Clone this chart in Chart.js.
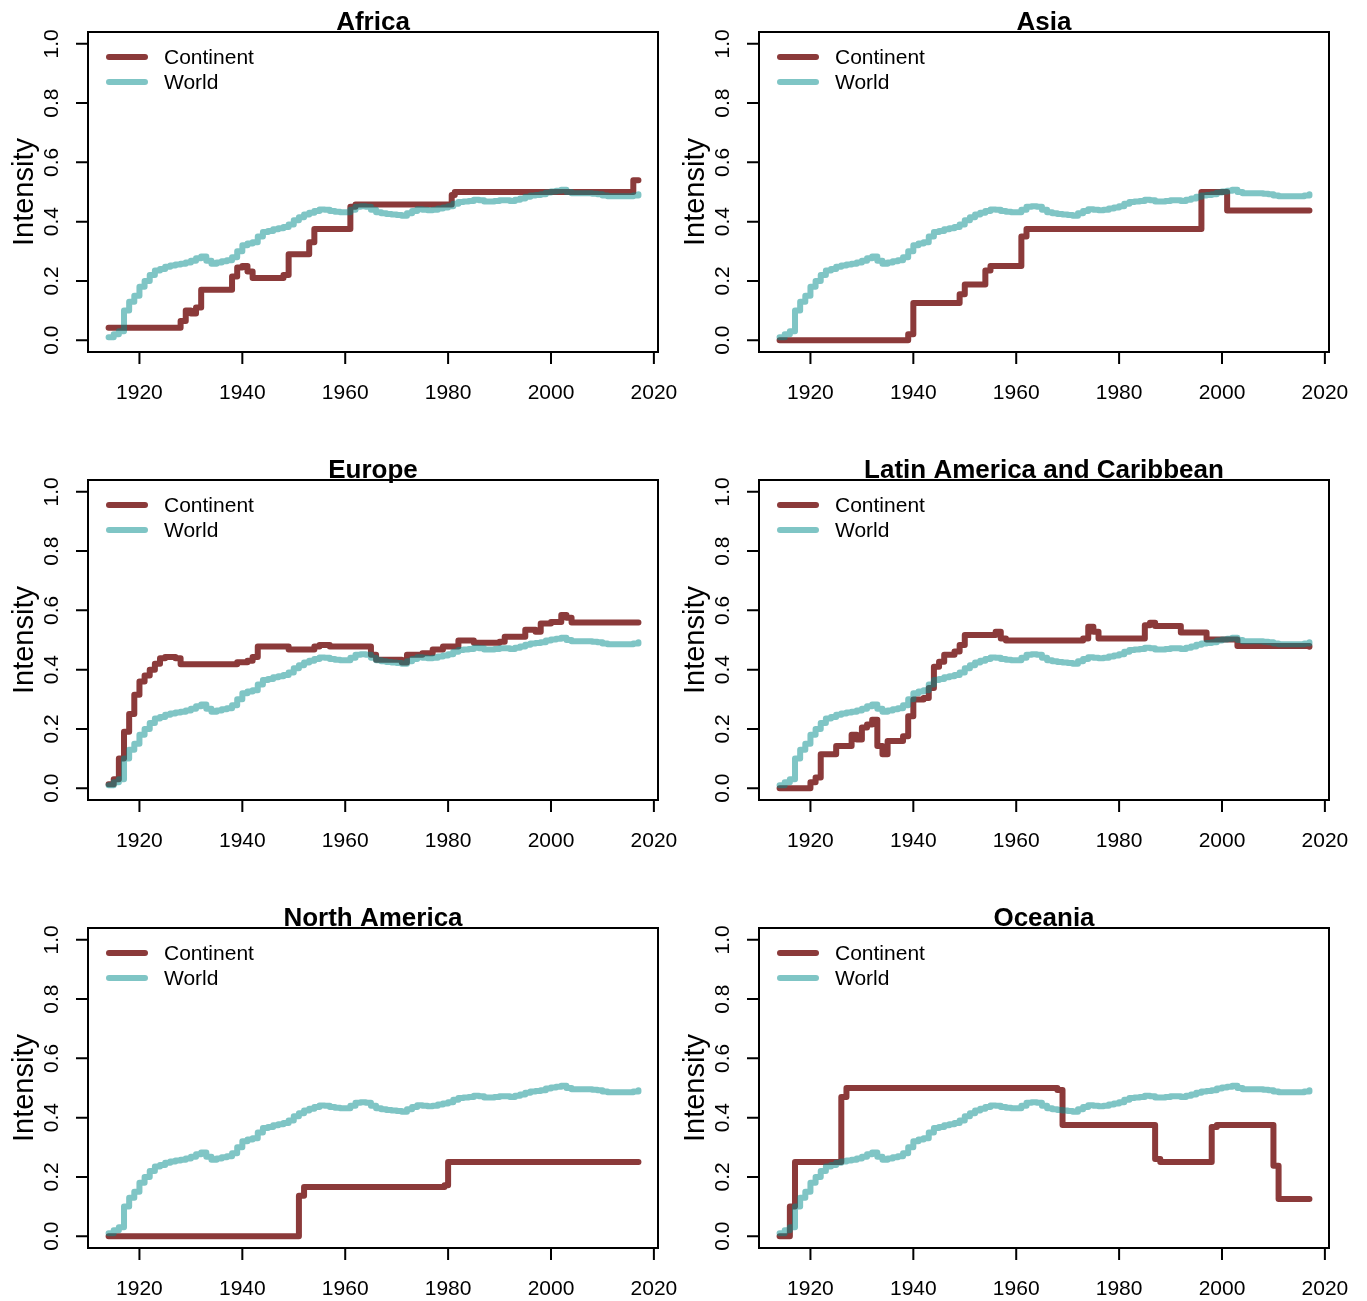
<!DOCTYPE html>
<html>
<head>
<meta charset="utf-8">
<title>Intensity by continent</title>
<script src="https://cdn.jsdelivr.net/npm/chart.js@4.4.1/dist/chart.umd.min.js"></script>
<style>
  html, body { margin: 0; padding: 0; background: #fff; }
  #page { position: relative; width: 1367px; height: 1301px; overflow: hidden; }
  #page canvas { position: absolute; }
</style>
</head>
<body>
<div id="page"></div>
<script>
// world average, same in every panel
const worldYears = [1914, 1915, 1916, 1917, 1918, 1919, 1920, 1921, 1922, 1923, 1924, 1925, 1926, 1927, 1928, 1929,
  1930, 1931, 1932, 1933, 1934, 1935, 1936, 1937, 1938, 1939, 1940, 1941, 1942, 1943, 1944, 1945, 1946, 1947, 1948, 1949,
  1950, 1951, 1952, 1953, 1954, 1955, 1956, 1957, 1958, 1959, 1960, 1961, 1962, 1963, 1964, 1965, 1966, 1967, 1968, 1969,
  1970, 1971, 1972, 1973, 1974, 1975, 1976, 1977, 1978, 1979, 1980, 1981, 1982, 1983, 1984, 1985, 1986, 1987, 1988, 1989,
  1990, 1991, 1992, 1993, 1994, 1995, 1996, 1997, 1998, 1999, 2000, 2001, 2002, 2003, 2004, 2005, 2006, 2007, 2008, 2009,
  2010, 2011, 2012, 2013, 2014, 2015, 2016, 2017];
const worldValues = [0.01, 0.02, 0.03, 0.10, 0.13, 0.15, 0.18, 0.20, 0.22, 0.235, 0.24, 0.248, 0.252, 0.255, 0.258, 0.262,
  0.268, 0.276, 0.282, 0.268, 0.258, 0.262, 0.266, 0.27, 0.28, 0.30, 0.32, 0.326, 0.33, 0.35, 0.365, 0.368, 0.374, 0.378, 0.382, 0.39,
  0.405, 0.415, 0.424, 0.43, 0.436, 0.441, 0.44, 0.436, 0.433, 0.432, 0.432, 0.44, 0.45, 0.452, 0.45, 0.44, 0.432, 0.428, 0.426, 0.424,
  0.422, 0.42, 0.428, 0.436, 0.442, 0.44, 0.438, 0.44, 0.444, 0.448, 0.452, 0.46, 0.466, 0.468, 0.47, 0.474, 0.472, 0.468, 0.468, 0.47,
  0.472, 0.472, 0.47, 0.474, 0.478, 0.484, 0.488, 0.49, 0.492, 0.498, 0.502, 0.504, 0.508, 0.50, 0.496, 0.496, 0.496, 0.496, 0.494, 0.492,
  0.488, 0.486, 0.486, 0.486, 0.486, 0.486, 0.488, 0.492];

// continent series (step changes)
const africaYears = [1914, 1928, 1929, 1930, 1931, 1932, 1938, 1939, 1940, 1941, 1942, 1948, 1949, 1953, 1954, 1961, 1962, 1980.7, 1981.3, 2016, 2017];
const africaValues = [0.042, 0.065, 0.10, 0.09, 0.11, 0.17, 0.215, 0.245, 0.25, 0.232, 0.21, 0.22, 0.29, 0.33, 0.375, 0.45, 0.458, 0.49, 0.50, 0.54, 0.54];

const asiaYears = [1914, 1939, 1940, 1949, 1950, 1954, 1955, 1961, 1962, 1996, 2001, 2017];
const asiaValues = [0, 0.02, 0.125, 0.155, 0.188, 0.235, 0.25, 0.35, 0.375, 0.50, 0.4375, 0.4375];

const europeYears = [1914, 1915, 1916, 1917, 1918, 1919, 1920, 1921, 1922, 1923, 1924, 1925, 1927, 1928, 1939, 1941, 1942, 1943,
  1949, 1954, 1955, 1957, 1965, 1966, 1971, 1972, 1975, 1977, 1979, 1982, 1985, 1990, 1991, 1995, 1997, 1998, 2000, 2002, 2003, 2004, 2017];
const europeValues = [0.013, 0.03, 0.10, 0.19, 0.25, 0.315, 0.36, 0.38, 0.40, 0.42, 0.438, 0.443, 0.438, 0.418, 0.425, 0.43, 0.443, 0.478,
  0.468, 0.478, 0.483, 0.478, 0.45, 0.433, 0.424, 0.45, 0.455, 0.468, 0.478, 0.498, 0.491, 0.494, 0.511, 0.535, 0.528, 0.556, 0.561, 0.584, 0.575, 0.559, 0.559];

const latamYears = [1914, 1920, 1921, 1922, 1925, 1928, 1929, 1930, 1931, 1932, 1933, 1934, 1935, 1938, 1939, 1940, 1942, 1943, 1944,
  1945, 1946, 1948, 1949, 1950, 1956, 1957, 1958, 1973, 1974, 1975, 1976, 1985, 1986, 1987, 1992, 1997, 2003, 2017];
const latamValues = [0, 0.02, 0.036, 0.114, 0.142, 0.18, 0.164, 0.205, 0.215, 0.231, 0.142, 0.114, 0.159, 0.175, 0.243, 0.299, 0.304, 0.338, 0.41,
  0.427, 0.45, 0.461, 0.483, 0.517, 0.528, 0.505, 0.498, 0.505, 0.545, 0.528, 0.505, 0.55, 0.558, 0.547, 0.525, 0.502, 0.48, 0.477];

const northAmYears = [1914, 1951, 1952, 1979.3, 1980, 2017];
const northAmValues = [0, 0.136, 0.166, 0.172, 0.25, 0.25];

const oceaniaYears = [1914, 1916, 1917, 1926, 1927, 1968, 1969, 1987, 1988, 1998, 1999, 2010, 2011, 2017];
const oceaniaValues = [0, 0.10, 0.25, 0.47, 0.50, 0.493, 0.375, 0.26, 0.25, 0.368, 0.375, 0.238, 0.125, 0.125];

const panelTitles = ['Africa', 'Asia', 'Europe', 'Latin America and Caribbean', 'North America', 'Oceania'];
const panelYears = [africaYears, asiaYears, europeYears, latamYears, northAmYears, oceaniaYears];
const panelValues = [africaValues, asiaValues, europeValues, latamValues, northAmValues, oceaniaValues];

const xTicks = [1920, 1940, 1960, 1980, 2000, 2020];
const yTicks = [0, 0.2, 0.4, 0.6, 0.8, 1.0];
const yTickLabels = ['0.0', '0.2', '0.4', '0.6', '0.8', '1.0'];
const seriesNames = ['Continent', 'World'];

const RED = 'rgb(139,58,58)';
const TEAL = 'rgba(0,139,139,0.5)';
const FONT = '"Liberation Sans", Arial, Helvetica, sans-serif';

function toPoints(xs, ys) {
  return xs.map((x, i) => ({ x: x, y: ys[i] }));
}

// R-style box, ticks, labels, title and legend
const rFrame = {
  id: 'rFrame',
  afterDraw(chart, args, opts) {
    const ctx = chart.ctx;
    const a = chart.chartArea;
    const sx = chart.scales.x, sy = chart.scales.y;
    ctx.save();
    ctx.strokeStyle = '#000';
    ctx.lineWidth = 2;
    ctx.strokeRect(a.left, a.top, a.right - a.left, a.bottom - a.top);

    ctx.beginPath();
    xTicks.forEach(v => {
      const px = sx.getPixelForValue(v);
      ctx.moveTo(px, a.bottom);
      ctx.lineTo(px, a.bottom + 12);
    });
    yTicks.forEach(v => {
      const py = sy.getPixelForValue(v);
      ctx.moveTo(a.left, py);
      ctx.lineTo(a.left - 12, py);
    });
    ctx.stroke();

    ctx.fillStyle = '#000';
    ctx.font = '21px ' + FONT;
    ctx.textAlign = 'center';
    ctx.textBaseline = 'alphabetic';
    xTicks.forEach(v => {
      ctx.fillText(String(v), sx.getPixelForValue(v), a.bottom + 47);
    });
    yTicks.forEach((v, i) => {
      ctx.save();
      ctx.translate(a.left - 30, sy.getPixelForValue(v));
      ctx.rotate(-Math.PI / 2);
      ctx.fillText(yTickLabels[i], 0, 0);
      ctx.restore();
    });

    // y axis title
    ctx.save();
    ctx.font = '29px ' + FONT;
    ctx.translate(a.left - 55, (a.top + a.bottom) / 2);
    ctx.rotate(-Math.PI / 2);
    ctx.fillText('Intensity', 0, 0);
    ctx.restore();

    // panel title
    ctx.font = 'bold 26px ' + FONT;
    ctx.fillText(opts.title, (a.left + a.right) / 2, a.top - 2);

    // legend
    ctx.font = '21px ' + FONT;
    ctx.textAlign = 'left';
    ctx.textBaseline = 'middle';
    ctx.lineWidth = 6;
    ctx.lineCap = 'round';
    [RED, TEAL].forEach((c, i) => {
      const ly = a.top + 25 + i * 25;
      ctx.strokeStyle = c;
      ctx.beginPath();
      ctx.moveTo(a.left + 21, ly);
      ctx.lineTo(a.left + 57, ly);
      ctx.stroke();
      ctx.fillText(seriesNames[i], a.left + 76, ly + 1);
    });
    ctx.restore();
  }
};

const page = document.getElementById('page');
const CW = 700, CH = 448;

panelTitles.forEach((title, k) => {
  const col = k % 2, row = Math.floor(k / 2);
  const canvas = document.createElement('canvas');
  canvas.width = CW;
  canvas.height = CH;
  canvas.style.left = (col * 671) + 'px';
  canvas.style.top = (row * 448) + 'px';
  canvas.style.width = CW + 'px';
  canvas.style.height = CH + 'px';
  page.appendChild(canvas);

  new Chart(canvas, {
    type: 'line',
    data: {
      datasets: [
        {
          label: seriesNames[0],
          data: toPoints(panelYears[k], panelValues[k]),
          borderColor: RED,
          borderWidth: 6,
          stepped: 'before',
          borderCapStyle: 'round',
          borderJoinStyle: 'round',
          pointRadius: 0,
          fill: false,
          order: 1
        },
        {
          label: seriesNames[1],
          data: toPoints(worldYears, worldValues),
          borderColor: TEAL,
          borderWidth: 6,
          stepped: 'before',
          borderCapStyle: 'round',
          borderJoinStyle: 'round',
          pointRadius: 0,
          fill: false,
          order: 0
        }
      ]
    },
    options: {
      responsive: false,
      animation: false,
      layout: { padding: { left: 88, top: 32, right: CW - 658, bottom: CH - 352 } },
      scales: {
        x: { type: 'linear', min: 1910, max: 2020.8, display: false },
        y: { type: 'linear', min: -0.04, max: 1.04, display: false }
      },
      plugins: {
        legend: { display: false },
        title: { display: false },
        tooltip: { enabled: false },
        rFrame: { title: title }
      }
    },
    plugins: [rFrame]
  });
});
</script>
</body>
</html>
